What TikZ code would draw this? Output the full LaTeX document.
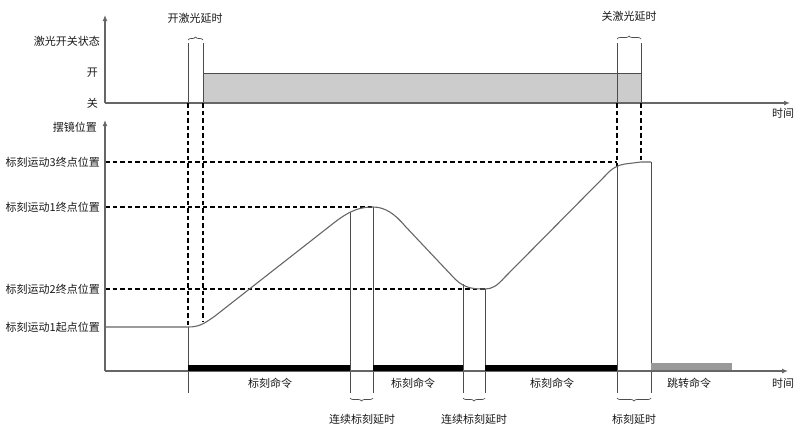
\documentclass[tikz,border=0pt]{standalone}
\usepackage{fontspec}
\setmainfont{Noto Sans CJK SC}
\usetikzlibrary{arrows.meta,decorations.pathreplacing}

\begin{document}
\begin{tikzpicture}[x=1pt, y=-1pt,
    axisline/.style={black!60, line width=1.3pt, -{Latex[length=6pt,width=5pt]}},
    guideline/.style={black, line width=1.3pt, dash pattern=on 4.5pt off 3pt},
    markline/.style={black!70, line width=1pt},
    traceline/.style={black!60, line width=1.1pt},
    delaybrace/.style={black!70, line width=0.7pt, decorate, decoration={brace, amplitude=3pt}},
    lbl/.style={inner sep=0pt, text=black!90, font=\fontsize{11}{13}\selectfont}]
    \useasboundingbox (0,0) rectangle (808,431);
    \fill[black!20] (203,73) rectangle (641,103);
    \draw[markline] (203,103) -- (203,43);
    \draw[markline] (188,103) -- (188,43);
    \draw[markline] (617,103) -- (617,43);
    \draw[markline] (641,103) -- (641,43);
    \draw[markline] (203,73) -- (641,73);
    \draw[axisline] (105,103) -- (105,15);
    \draw[axisline] (105,103) -- (790,103);
    \draw[delaybrace] (188,40) -- (203,40);
    \draw[delaybrace] (617,39) -- (641,39);
    \node[lbl, anchor=east] (state) at (100,41) {激光开关状态};
    \node[lbl, anchor=east] (laseron) at (98,73) {开};
    \node[lbl, anchor=east] (laseroff) at (98,103) {关};
    \node[lbl] (ondelay) at (195,18) {开激光延时};
    \node[lbl] (offdelay) at (629,16) {关激光延时};
    \node[lbl] (timetop) at (783,113) {时间};
    \draw[guideline] (188,103) -- (188,327);
    \draw[guideline] (203,103) -- (203,322);
    \draw[guideline] (617,103) -- (617,166);
    \draw[guideline] (641,103) -- (641,162);
    \draw[guideline] (105,162) -- (617,162);
    \draw[guideline] (105,207) -- (373,207);
    \draw[guideline] (105,289) -- (485,289);
    \draw[markline] (188,327) -- (188,393);
    \draw[markline] (350,212) -- (350,393);
    \draw[markline] (373,207) -- (373,393);
    \draw[markline] (463,284) -- (463,393);
    \draw[markline] (485,289) -- (485,393);
    \draw[markline] (617,166) -- (617,393);
    \draw[markline] (651,162) -- (651,393);
    \draw[traceline] (105,327) -- (188,327) .. controls (200,327) and (205,323) .. (215,316)
        -- (335,222) .. controls (352,209) and (362,207) .. (373,207)
        .. controls (385,207) and (395,214) .. (405,226) -- (455,279)
        .. controls (465,289) and (475,289) .. (485,289)
        .. controls (492,289) and (497,286) .. (505,277) -- (605,176)
        .. controls (612,168) and (618,165) .. (625,164) -- (641,162) -- (651,162);
    \draw[axisline] (105,371) -- (105,120);
    \draw[axisline] (105,371) -- (788,371);
    \fill[black] (188,365) rectangle (350,371);
    \fill[black] (373,365) rectangle (463,371);
    \fill[black] (485,365) rectangle (617,371);
    \fill[black!40] (651,363) rectangle (732,370);
    \draw[delaybrace] (373,398) -- (350,398);
    \draw[delaybrace] (485,398) -- (463,398);
    \draw[delaybrace] (651,398) -- (617,398);
    \node[lbl, anchor=east] (mirror) at (97,127) {摆镜位置};
    \node[lbl, anchor=east] (endthree) at (100,162) {标刻运动3终点位置};
    \node[lbl, anchor=east] (endone) at (100,207) {标刻运动1终点位置};
    \node[lbl, anchor=east] (endtwo) at (100,289) {标刻运动2终点位置};
    \node[lbl, anchor=east] (startone) at (100,327) {标刻运动1起点位置};
    \node[lbl] (timebottom) at (783,383) {时间};
    \node[lbl] (markone) at (270,383) {标刻命令};
    \node[lbl] (marktwo) at (413,383) {标刻命令};
    \node[lbl] (markthree) at (552,383) {标刻命令};
    \node[lbl] (jump) at (689,383) {跳转命令};
    \node[lbl] (gapone) at (362,419) {连续标刻延时};
    \node[lbl] (gaptwo) at (474,419) {连续标刻延时};
    \node[lbl] (markdelay) at (634,419) {标刻延时};
\end{tikzpicture}
\end{document}
